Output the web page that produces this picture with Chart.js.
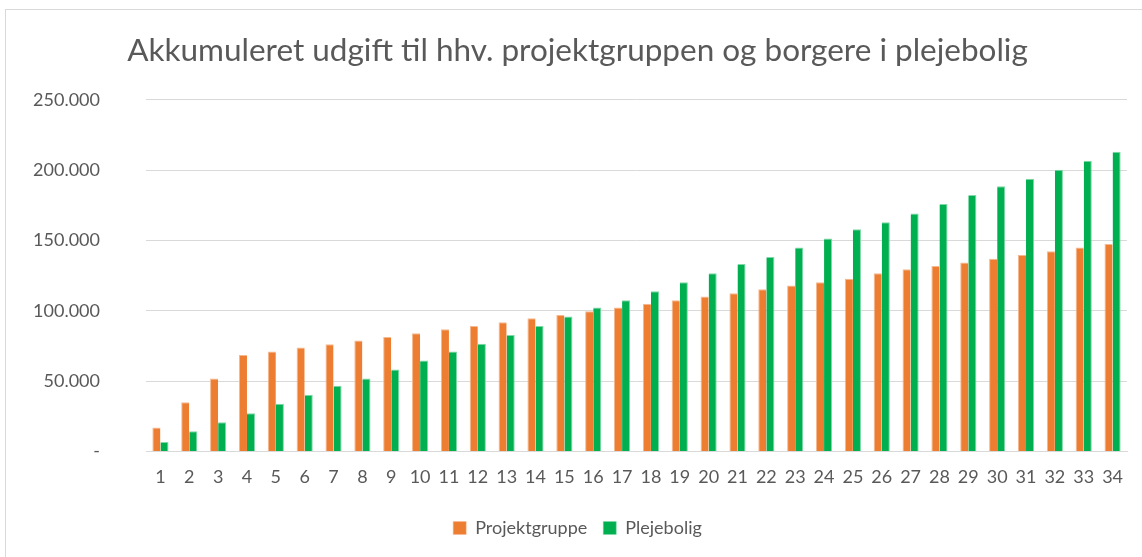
<!DOCTYPE html>
<html>
<head>
<meta charset="utf-8">
<script src="https://cdn.jsdelivr.net/npm/chart.js@4"></script>
<style>
  html, body { margin: 0; padding: 0; background: #fff; }
  #wrap { position: absolute; left: 5px; top: 9px; width: 1150px; height: 560px;
          border: 1px solid #d9d9d9; box-sizing: border-box; }
  #box { position: absolute; left: 0; top: 0; width: 1142px; height: 557px; }
</style>
</head>
<body>
<div id="wrap"></div>
<div id="box"><canvas id="myChart"></canvas></div>
<script>
// Categories (years) and cumulative values
let years = [];
for (let i = 1; i <= 34; i++) years.push(String(i));

let projektgruppe = [17000, 35000, 51800, 68600, 71000, 73900, 76200, 78800, 81400, 84000,
    86800, 89200, 91800, 94700, 97000, 99600, 102300, 104900, 107500, 110100,
    112400, 115300, 117900, 120200, 122800, 126600, 129500, 131800, 134400, 137000,
    139700, 142300, 144900, 147500];

let plejebolig = [6600, 14400, 20800, 27200, 33800, 40200, 46600, 51800, 58200, 64600,
    71000, 76500, 82800, 89200, 95900, 102300, 107500, 113900, 120200, 126600,
    133300, 138200, 144900, 151300, 157900, 162900, 169200, 175900, 182300, 188600,
    193900, 200300, 206600, 213000];

let yTicks = [0, 50000, 100000, 150000, 200000, 250000];

function formatDk(v) {
    if (v === 0) return "-";
    return String(v).replace(/\B(?=(\d{3})+(?!\d))/g, ".");
}

let textColor = '#595959';

let ctx = document.getElementById('myChart').getContext('2d');
let myChart = new Chart(ctx, {
    type: 'bar',
    data: {
        labels: years,
        datasets: [{
            label: 'Projektgruppe',
            data: projektgruppe,
            backgroundColor: '#ED7D31',
            borderColor: '#f6b88f',
            borderWidth: { top: 1, left: 1, right: 0, bottom: 0 }
        }, {
            label: 'Plejebolig',
            data: plejebolig,
            backgroundColor: '#00B050',
            borderColor: '#7fd8a7',
            borderWidth: { top: 1, left: 0, right: 1, bottom: 0 }
        }]
    },
    options: {
        responsive: true,
        maintainAspectRatio: false,
        animation: false,
        datasets: {
            bar: { categoryPercentage: 0.56, barPercentage: 1.0 }
        },
        layout: {
            // a bit of left padding moves title/legend centre to the right
            padding: { left: 28, right: 15, top: 0, bottom: 10 }
        },
        plugins: {
            title: {
                display: true,
                text: 'Akkumuleret udgift til hhv. projektgruppen og borgere i plejebolig',
                color: textColor,
                font: { family: 'Lato', size: 31.5, weight: 'normal' },
                padding: { top: 32, bottom: 30 }
            },
            legend: {
                position: 'bottom',
                labels: {
                    color: textColor,
                    font: { family: 'Lato', size: 18 },
                    boxWidth: 13,
                    boxHeight: 13,
                    padding: 16
                }
            },
            tooltip: { enabled: false }
        },
        scales: {
            x: {
                grid: { display: false, drawTicks: false },
                border: { display: true, color: '#d9d9d9' },
                ticks: {
                    color: textColor,
                    font: { family: 'Lato', size: 18 },
                    maxRotation: 0,
                    autoSkip: false,
                    padding: 15
                }
            },
            y: {
                min: 0,
                max: 250000,
                afterBuildTicks: function(scale) {
                    scale.ticks = yTicks.map(function(v) { return { value: v }; });
                },
                afterFit: function(scale) { scale.width = 118; },
                grid: { color: '#d9d9d9', drawTicks: false },
                border: { display: false },
                ticks: {
                    color: textColor,
                    font: { family: 'Lato', size: 18 },
                    padding: 46,
                    callback: function(value) { return formatDk(value); }
                }
            }
        }
    }
});
</script>
</body>
</html>
